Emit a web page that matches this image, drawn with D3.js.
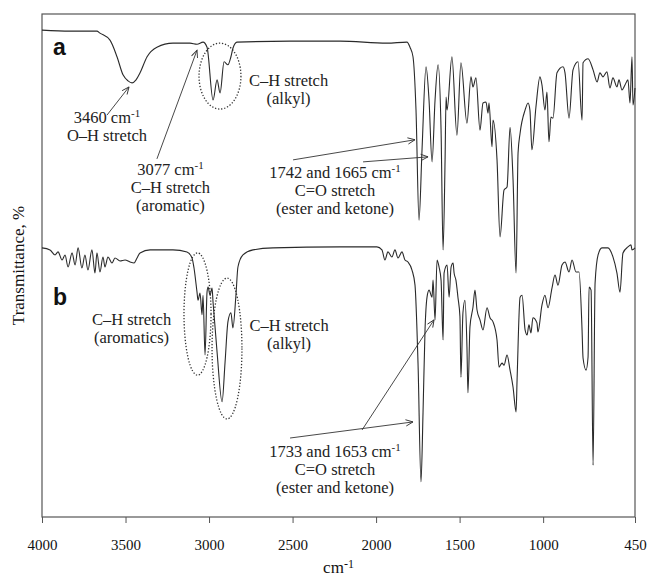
<!DOCTYPE html>
<html>
<head>
<meta charset="utf-8">
<script src="https://cdn.jsdelivr.net/npm/d3@7"></script>
<style>
  body { margin: 0; background: #fff; }
  svg { display: block; }
  .serif { font-family: "Liberation Serif", "Times New Roman", Times, "DejaVu Serif", serif; }
</style>
</head>
<body>
<svg id="chart" width="650" height="577"></svg>
<script>
// wavenumber (cm-1), transmittance (% on a shared offset scale)
const traceA = [
  [4000,96.8],[3832,96.6],[3671,96.6],[3653,96.2],[3593,94.8],[3551,91.5],[3515,87.9],[3485,86.7],
  [3461,86.3],[3437,86.9],[3413,88.3],[3371,91.5],[3312,93.4],[3216,94.2],[3114,94.2],[3072,94.0],
  [3036,94.4],[3012,93.4],[2976,82.9],[2952,86.9],[2934,84.3],[2910,90.5],[2887,89.9],[2869,91.5],
  [2857,93.2],[2833,94.4],[2515,94.6],[2216,94.6],[1935,94.2],[1815,94.4],[1797,93.4],[1779,91.5],
  [1761,80.9],[1743,59.0],[1725,73.0],[1701,89.5],[1683,82.9],[1665,70.6],[1647,82.9],[1629,89.9],
  [1611,76.9],[1599,53.1],[1587,71.0],[1581,83.5],[1575,80.9],[1546,91.5],[1516,75.9],[1492,90.3],
  [1456,78.3],[1432,87.5],[1420,85.5],[1402,87.3],[1378,76.9],[1360,82.3],[1342,82.5],[1330,80.3],
  [1324,82.3],[1306,73.6],[1300,78.9],[1276,71.0],[1258,55.7],[1234,65.0],[1216,65.6],[1198,77.5],
  [1180,67.0],[1162,48.5],[1150,72.4],[1138,76.3],[1108,80.9],[1090,82.3],[1079,80.9],[1067,73.0],
  [1043,81.5],[1019,87.5],[1007,85.9],[989,80.9],[977,84.5],[965,74.6],[953,79.5],[941,79.3],
  [917,88.3],[881,89.5],[869,88.3],[845,79.3],[821,88.9],[791,90.5],[767,78.9],[761,90.3],
  [731,91.1],[701,88.9],[677,86.5],[660,88.3],[642,87.5],[618,88.5],[600,85.3],[582,87.3],
  [558,85.5],[546,86.9],[528,84.9],[510,85.9],[492,86.9],[480,82.3],[468,91.5],[462,81.9],[450,85.3]
];

const traceB = [
  [4000,53.5],[3952,53.1],[3922,52.1],[3904,52.7],[3880,51.1],[3862,52.1],[3844,49.7],[3820,52.5],
  [3802,50.1],[3784,53.5],[3761,49.5],[3743,52.1],[3725,49.1],[3701,53.1],[3683,48.5],[3671,52.5],
  [3653,48.7],[3635,51.7],[3623,49.7],[3605,51.7],[3581,50.5],[3563,51.5],[3533,50.9],[3503,51.1],
  [3473,50.7],[3449,50.5],[3431,51.5],[3413,52.5],[3353,53.1],[3216,53.1],[3132,52.7],[3102,51.5],
  [3090,49.5],[3072,44.7],[3066,43.1],[3054,44.5],[3042,40.2],[3036,44.1],[3024,32.2],[3012,44.7],
  [3006,45.7],[2994,44.1],[2982,45.5],[2976,42.7],[2952,32.8],[2922,22.9],[2904,30.8],[2887,38.8],
  [2869,40.6],[2857,37.6],[2839,44.1],[2827,49.7],[2797,52.1],[2737,53.1],[2617,53.5],[2216,53.7],
  [1995,53.7],[1965,53.1],[1947,51.1],[1929,52.7],[1905,51.7],[1887,53.1],[1869,51.5],[1845,52.7],
  [1827,51.1],[1809,50.7],[1785,49.1],[1767,46.1],[1749,30.6],[1731,7.0],[1719,20.7],[1707,37.2],
  [1695,43.7],[1683,45.1],[1665,43.7],[1659,47.1],[1647,39.2],[1635,51.1],[1623,49.7],[1611,47.1],
  [1599,35.2],[1593,48.5],[1575,50.1],[1563,43.7],[1551,49.7],[1539,50.5],[1533,48.5],[1522,47.1],
  [1510,43.7],[1498,39.8],[1492,27.8],[1480,40.6],[1468,43.1],[1456,33.8],[1450,24.7],[1438,37.8],
  [1420,41.7],[1408,45.1],[1396,41.2],[1378,39.2],[1360,37.2],[1336,41.6],[1318,39.6],[1300,38.8],
  [1276,35.2],[1264,29.8],[1246,30.6],[1234,30.2],[1216,32.2],[1198,29.2],[1180,25.8],[1162,20.9],
  [1156,27.2],[1138,43.7],[1126,44.1],[1108,37.2],[1096,36.2],[1085,38.2],[1073,36.6],[1061,39.6],
  [1037,38.6],[1031,36.8],[1007,42.1],[989,44.1],[971,41.6],[947,45.5],[929,48.1],[911,46.1],
  [887,50.1],[869,50.7],[845,48.7],[827,51.1],[803,48.7],[785,48.7],[767,37.2],[761,31.6],
  [743,29.2],[731,31.8],[725,45.7],[713,45.1],[701,10.3],[689,46.5],[671,52.1],[648,53.5],
  [612,53.5],[582,51.7],[558,48.5],[540,44.7],[522,52.5],[492,53.7],[474,54.1],[468,53.1],[450,53.5]
];

const tickValues = [4000, 3500, 3000, 2500, 2000, 1500, 1000, 450];

// annotation text blocks: anchor in data units, lines of text (second item = superscript)
const labels = [
  { wn: 3611, t: 78.4, lines: [["3460 cm", "-1"], ["O\u2013H stretch"]] },
  { wn: 3231, t: 68.0, lines: [["3077 cm", "-1"], ["C\u2013H stretch"], ["(aromatic)"]] },
  { wn: 2524, t: 85.6, lines: [["C\u2013H stretch"], ["(alkyl)"]] },
  { wn: 2246, t: 67.4, lines: [["1742 and 1665 cm", "-1"], ["C=O stretch"], ["(ester and ketone)"]] },
  { wn: 3464, t: 38.1, lines: [["C\u2013H stretch"], ["(aromatics)"]] },
  { wn: 2521, t: 37.0, lines: [["C\u2013H stretch"], ["(alkyl)"]] },
  { wn: 2246, t: 11.9, lines: [["1733 and 1653 cm", "-1"], ["C=O stretch"], ["(ester and ketone)"]] }
];

const panelLetters = [
  { wn: 3934, t: 91.8, text: "a" },
  { wn: 3934, t: 42.1, text: "b" }
];

// arrows: from [wn, t] to [wn, t]
const arrows = [
  [[3611, 79.9], [3479, 85.5]],
  [[3312, 71.2], [3072, 92.8]],
  [[2497, 71.0], [1767, 75.0]],
  [[2078, 70.6], [1689, 71.6]],
  [[2515, 15.7], [1779, 18.9]],
  [[2084, 17.3], [1653, 39.2]]
];

// dotted ellipses: wavenumber span, transmittance span
const ellipses = [
  { wn: [3060, 2809], t: [94.2, 81.1] },
  { wn: [3150, 2988], t: [52.5, 28.2] },
  { wn: [2982, 2803], t: [47.5, 19.5] }
];

const margin = { top: 14, right: 15, bottom: 60, left: 42 };
const width = 650, height = 577;

const svg = d3.select("#chart");

const x = d3.scaleLinear()
  .domain([4000, 450])
  .range([margin.left, width - margin.right]);

const y = d3.scaleLinear()
  .domain([0, 100])
  .range([height - margin.bottom, margin.top]);

function drawFrame() {
  svg.append("rect")
    .attr("x", x.range()[0])
    .attr("y", y.range()[1])
    .attr("width", x.range()[1] - x.range()[0])
    .attr("height", y.range()[0] - y.range()[1])
    .attr("fill", "none")
    .attr("stroke", "#555")
    .attr("stroke-width", 1.2);
}

function drawAxes() {
  const axis = svg.append("g")
    .attr("transform", `translate(0,${y.range()[0]})`)
    .call(
      d3.axisBottom(x)
        .tickValues(tickValues)
        .tickSizeOuter(0)
        .tickSize(6)
        .tickPadding(16)
        .tickFormat(d3.format("d"))
    )
    .attr("font-family", null)
    .attr("font-size", null);

  axis.select(".domain").remove();
  axis.selectAll(".tick line").attr("stroke", "#555");
  axis.selectAll(".tick text")
    .attr("class", "serif")
    .attr("fill", "#111")
    .style("font-size", "15px");

  const title = svg.append("text")
    .attr("class", "serif")
    .attr("x", (x.range()[0] + x.range()[1]) / 2)
    .attr("y", height - 4)
    .attr("text-anchor", "middle")
    .attr("fill", "#111")
    .style("font-size", "17px")
    .text("cm");
  title.append("tspan")
    .attr("dy", -5)
    .style("font-size", "12px")
    .text("-1");

  svg.append("text")
    .attr("class", "serif")
    .attr("transform", `translate(24,${(y.range()[0] + y.range()[1]) / 2}) rotate(-90)`)
    .attr("text-anchor", "middle")
    .attr("fill", "#111")
    .style("font-size", "17px")
    .text("Transmittance, %");
}

function drawTraces() {
  const line = d3.line()
    .x(d => x(d[0]))
    .y(d => y(d[1]))
    .curve(d3.curveMonotoneX);

  svg.append("g")
    .selectAll("path")
    .data([traceA, traceB])
    .join("path")
    .attr("d", line)
    .attr("fill", "none")
    .attr("stroke", "#2a2a2a")
    .attr("stroke-width", 1.1)
    .attr("stroke-linejoin", "round");
}

function drawAnnotations() {
  svg.append("defs")
    .append("marker")
    .attr("id", "head")
    .attr("markerUnits", "userSpaceOnUse")
    .attr("viewBox", "0 0 10 10")
    .attr("refX", 9)
    .attr("refY", 5)
    .attr("markerWidth", 9)
    .attr("markerHeight", 9)
    .attr("orient", "auto")
    .append("path")
    .attr("d", "M1,1.5 L9,5 L1,8.5")
    .attr("fill", "none")
    .attr("stroke", "#333")
    .attr("stroke-width", 1);

  svg.append("g")
    .selectAll("line")
    .data(arrows)
    .join("line")
    .attr("x1", d => x(d[0][0]))
    .attr("y1", d => y(d[0][1]))
    .attr("x2", d => x(d[1][0]))
    .attr("y2", d => y(d[1][1]))
    .attr("stroke", "#333")
    .attr("stroke-width", 0.9)
    .attr("marker-end", "url(#head)");

  svg.append("g")
    .selectAll("ellipse")
    .data(ellipses)
    .join("ellipse")
    .attr("cx", d => (x(d.wn[0]) + x(d.wn[1])) / 2)
    .attr("cy", d => (y(d.t[0]) + y(d.t[1])) / 2)
    .attr("rx", d => Math.abs(x(d.wn[1]) - x(d.wn[0])) / 2)
    .attr("ry", d => Math.abs(y(d.t[1]) - y(d.t[0])) / 2)
    .attr("fill", "none")
    .attr("stroke", "#333")
    .attr("stroke-width", 1.3)
    .attr("stroke-dasharray", "1.3,1.8");

  // one <text> per line so a superscript never shifts the next line
  const rows = labels.flatMap(d =>
    d.lines.map((ln, i) => ({ wn: d.wn, t: d.t, row: i, main: ln[0], sup: ln[1] }))
  );

  const texts = svg.append("g")
    .selectAll("text")
    .data(rows)
    .join("text")
    .attr("class", "serif")
    .attr("x", d => x(d.wn))
    .attr("y", d => y(d.t) + d.row * 18)
    .attr("text-anchor", "middle")
    .attr("fill", "#222")
    .style("font-size", "16.5px");

  texts.append("tspan").text(d => d.main);
  texts.filter(d => d.sup)
    .append("tspan")
    .attr("dy", -6)
    .style("font-size", "11px")
    .text(d => d.sup);

  svg.append("g")
    .selectAll("text")
    .data(panelLetters)
    .join("text")
    .attr("x", d => x(d.wn))
    .attr("y", d => y(d.t))
    .attr("fill", "#111")
    .style("font-family", "'Liberation Sans', Arial, sans-serif")
    .style("font-weight", "bold")
    .style("font-size", "23px")
    .text(d => d.text);
}

drawFrame();
drawTraces();
drawAnnotations();
drawAxes();
</script>
</body>
</html>
